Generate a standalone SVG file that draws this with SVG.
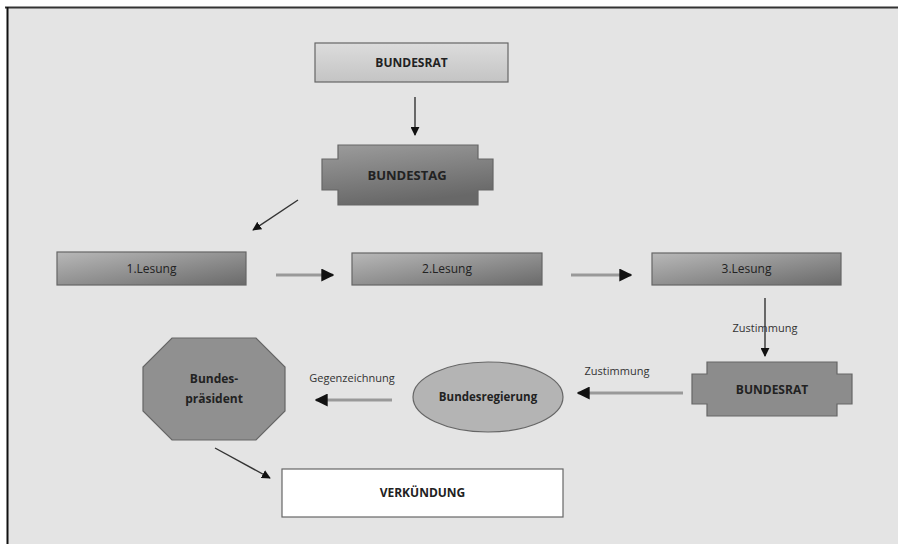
<svg xmlns="http://www.w3.org/2000/svg" width="898" height="544" viewBox="0 0 898 544">
<defs>
<linearGradient id="gLight" x1="0" y1="0" x2="0" y2="1"><stop offset="0" stop-color="#dcdcdc"/><stop offset="1" stop-color="#c4c4c4"/></linearGradient>
<linearGradient id="gLes" x1="0" y1="0" x2="1" y2="1"><stop offset="0" stop-color="#b8b8b8"/><stop offset="1" stop-color="#6a6a6a"/></linearGradient>
<linearGradient id="gTag" x1="0" y1="0" x2="0.3" y2="1"><stop offset="0" stop-color="#9c9c9c"/><stop offset="1" stop-color="#686868"/></linearGradient>
<marker id="ah" viewBox="0 0 10 10" refX="9" refY="5" markerWidth="9" markerHeight="9" markerUnits="userSpaceOnUse" orient="auto"><path d="M0,0 L10,5 L0,10 z" fill="#111"/></marker>
<marker id="ahb" viewBox="0 0 10 10" refX="9" refY="5" markerWidth="13" markerHeight="13" markerUnits="userSpaceOnUse" orient="auto"><path d="M0,0 L10,5 L0,10 z" fill="#111"/></marker>
</defs>
<style>
.lbl{font-family:"Open Sans","Liberation Sans",sans-serif;fill:#222;text-anchor:middle}
.b{font-weight:bold;font-size:12px}
.r{font-size:12px}
.s{font-size:11px;fill:#333}
.box{stroke:#666;stroke-width:1.2}
.con{stroke:#333;stroke-width:1.4;fill:none;marker-end:url(#ah)}
.conb{stroke:#999;stroke-width:3;fill:none;marker-end:url(#ahb)}
</style>
<rect width="898" height="544" fill="#ffffff"/>
<rect x="7" y="7" width="891" height="537" fill="#e4e4e4"/>
<line x1="5" y1="7.5" x2="898" y2="7.5" stroke="#333" stroke-width="2"/>
<line x1="7.5" y1="7" x2="7.5" y2="544" stroke="#111" stroke-width="2"/>

<g id="connectors">
<line class="con" x1="415" y1="97" x2="415" y2="135"/>
<line class="con" x1="298" y1="200" x2="253" y2="230"/>
<line class="conb" x1="276" y1="275" x2="333" y2="275"/>
<line class="conb" x1="571" y1="275" x2="631" y2="275"/>
<line class="con" x1="765" y1="298" x2="765" y2="356"/>
<line class="conb" x1="683" y1="393" x2="578" y2="393"/>
<line class="conb" x1="392" y1="400" x2="316" y2="400"/>
<line class="con" x1="215" y1="448" x2="270" y2="478"/>
<text class="lbl s" x="765" y="332">Zustimmung</text>
<text class="lbl s" x="617" y="375">Zustimmung</text>
<text class="lbl s" x="352" y="382">Gegenzeichnung</text>
</g>

<g id="bundesrat-top">
<rect class="box" x="315" y="43" width="193" height="39" fill="url(#gLight)"/>
<text class="lbl b" x="411.5" y="67">BUNDESRAT</text>
</g>

<g id="bundestag">
<path class="box" d="M338,145 H478 V159 H493 V190 H478 V205 H338 V190 H322 V159 H338 Z" fill="url(#gTag)"/>
<text class="lbl b" x="407" y="180" style="font-size:13px">BUNDESTAG</text>
</g>

<g id="lesung1">
<rect class="box" x="57" y="252" width="189" height="33" fill="url(#gLes)"/>
<text class="lbl r" x="151.5" y="273">1.Lesung</text>
</g>

<g id="lesung2">
<rect class="box" x="352" y="253" width="190" height="32" fill="url(#gLes)"/>
<text class="lbl r" x="447" y="273">2.Lesung</text>
</g>

<g id="lesung3">
<rect class="box" x="652" y="253" width="189" height="32" fill="url(#gLes)"/>
<text class="lbl r" x="746.5" y="273">3.Lesung</text>
</g>

<g id="bundesrat-bottom">
<path class="box" d="M707,362 H837 V374 H852 V404 H837 V416 H707 V404 H692 V374 H707 Z" fill="#8c8c8c"/>
<text class="lbl b" x="772" y="394">BUNDESRAT</text>
</g>

<g id="bundesregierung">
<ellipse class="box" cx="488" cy="397" rx="75" ry="35" fill="#b4b4b4"/>
<text class="lbl b" x="488" y="401" style="font-size:11.5px">Bundesregierung</text>
</g>

<g id="bundespraesident">
<polygon class="box" points="172,338 256,338 285,367 285,411 256,440 172,440 143,411 143,367" fill="#909090"/>
<text class="lbl b" x="214" y="383">Bundes-</text>
<text class="lbl b" x="214" y="403">präsident</text>
</g>

<g id="verkuendung">
<rect class="box" x="282" y="469" width="281" height="48" fill="#ffffff"/>
<text class="lbl b" x="422.5" y="497">VERKÜNDUNG</text>
</g>
</svg>
